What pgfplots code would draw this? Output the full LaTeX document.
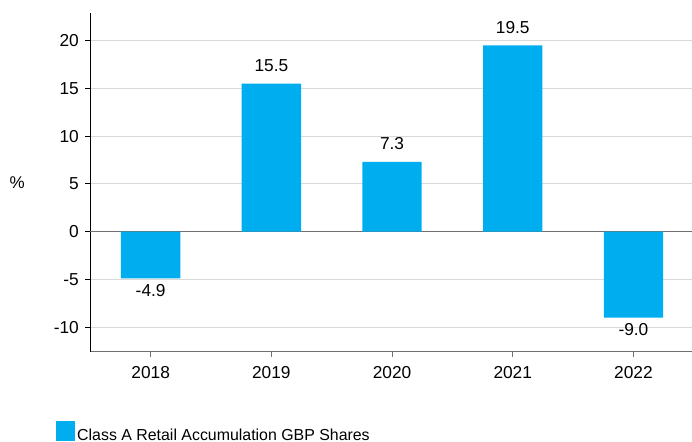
\documentclass[border=0pt]{standalone}
\usepackage{fontspec}
\setmainfont{Liberation Sans}
\usepackage{pgfplots}
\pgfplotsset{compat=1.18}
\definecolor{barblue}{HTML}{00AEEF}
\definecolor{gridgray}{HTML}{D9D9D9}
\definecolor{zerogray}{HTML}{707070}
\begin{document}
\begin{tikzpicture}
\useasboundingbox (0,0) rectangle (692pt,441pt);
\begin{axis}[
  at={(90.3pt,89.3pt)}, anchor=south west,
  scale only axis, width=603.5pt, height=338.4pt,
  xmin=-0.5, xmax=4.5, ymin=-12.57, ymax=22.87,
  ybar, bar width=59.3pt, bar shift=0pt,
  axis x line*=bottom, axis y line*=left,
  x axis line style={zerogray, line width=1pt, -},
  y axis line style={black, line width=1pt, -},
  xtick={0,1,2,3,4}, xticklabels={2018,2019,2020,2021,2022},
  ytick={-10,-5,0,5,10,15,20},
  tick align=outside, major tick length=5pt,
  xtick style={zerogray, line width=1pt},
  ytick style={black, line width=1pt},
  ymajorgrids, grid style={gridgray, line width=1pt},
  extra y ticks={0}, extra y tick labels={},
  extra y tick style={grid style={zerogray, line width=1.5pt}, major tick length=0pt},
  /pgf/number format/assume math mode=true,
  ticklabel style={font=\fontsize{17.3}{20}\selectfont, text=black},
  yticklabel style={xshift=-3pt},
  xticklabel style={yshift=-6pt},
  ylabel={\%}, ylabel style={rotate=-90, at={(rel axis cs:0,0.5)}, anchor=center, xshift=-73pt, font=\fontsize{17}{20}\selectfont},
  nodes near coords={\pgfmathprintnumber[fixed, fixed zerofill, precision=1, assume math mode=true]{\pgfplotspointmeta}},
  every node near coord/.append style={font=\fontsize{17.3}{20}\selectfont, text=black, inner sep=9pt, yshift=3pt},
  legend style={at={(rel axis cs:-0.0568,-0.205)}, anchor=north west, draw=none, inner sep=0pt, font=\fontsize{15.9}{18}\selectfont, legend cell align=left},
  legend image code/.code={\fill[barblue] (0pt,-6pt) rectangle (19pt,14pt);},
]
\addplot[fill=barblue, draw=none] coordinates {(0,-4.9) (1,15.5) (2,7.3) (3,19.5) (4,-9.0)};
\addlegendentry{Class A Retail Accumulation GBP Shares}
\end{axis}
\end{tikzpicture}
\end{document}
